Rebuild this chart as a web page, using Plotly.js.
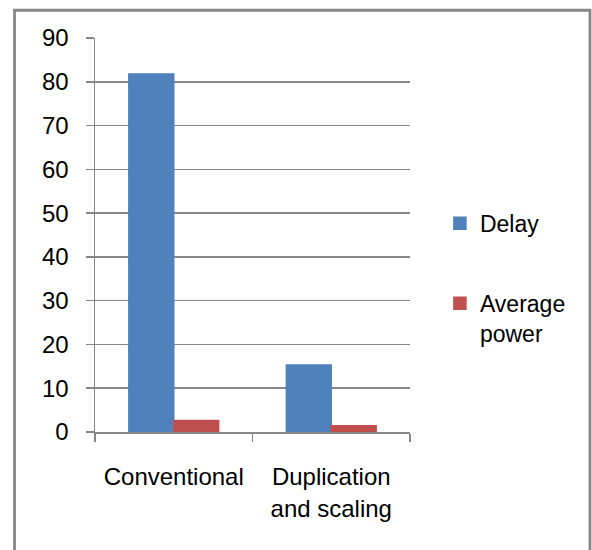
<!DOCTYPE html>
<html>
<head>
<meta charset="utf-8">
<script src="https://cdn.plot.ly/plotly-3.0.1.min.js"></script>
<style>
  html, body { margin: 0; padding: 0; background: #ffffff; }
  #chart { width: 592px; height: 550px; }
</style>
</head>
<body>
<div id="chart"></div>
<script>
// Circuit comparison: delay vs. average power for two design approaches
var categories = ["Conventional", "Duplication<br>and scaling"];
var delayValues = [81.8, 15.3];
var powerValues = [2.6, 1.4];
var seriesNames = ["Delay", "Average<br>power"];
var yTicks = [0, 10, 20, 30, 40, 50, 60, 70, 80, 90];

var FONT = "Liberation Sans, Arial, sans-serif";
var GRAY = "#878787";

var traces = [
  {
    type: "bar",
    name: seriesNames[0],
    x: categories,
    y: delayValues,
    marker: { color: "#4F81BD", line: { color: "#4F81BD", width: 1.5 } },
    legendgroup: "a",
    hoverinfo: "y"
  },
  {
    type: "bar",
    name: seriesNames[1],
    x: categories,
    y: powerValues,
    marker: { color: "#C0504D", line: { color: "#C0504D", width: 1.5 } },
    legendgroup: "b",
    hoverinfo: "y"
  }
];

var layout = {
  width: 592,
  height: 550,
  margin: { l: 95, r: 182, t: 38, b: 118, autoexpand: false },
  paper_bgcolor: "#ffffff",
  plot_bgcolor: "#ffffff",
  font: { family: FONT, size: 24, color: "#000000" },
  barmode: "group",
  bargap: 0.43,
  bargroupgap: 0,
  showlegend: true,
  legend: {
    x: 1.095,
    y: 0.584,
    xanchor: "left",
    yanchor: "top",
    font: { family: FONT, size: 23, color: "#000000" },
    traceorder: "grouped",
    tracegroupgap: 47,
    valign: "top",
    itemwidth: 30,
    bgcolor: "rgba(0,0,0,0)"
  },
  xaxis: {
    type: "category",
    showline: true,
    linecolor: GRAY,
    linewidth: 1.5,
    ticks: "outside",
    tickson: "boundaries",
    ticklen: 8,
    tickwidth: 1.5,
    tickcolor: GRAY,
    showgrid: false,
    zeroline: false,
    ticklabelstandoff: 23,
    tickfont: { family: FONT, size: 24, color: "#000000" },
    fixedrange: true
  },
  yaxis: {
    range: [0, 90],
    tickvals: yTicks,
    ticktext: yTicks.map(String),
    showline: true,
    linecolor: GRAY,
    linewidth: 1.5,
    ticks: "outside",
    ticklen: 8,
    tickwidth: 1.5,
    tickcolor: GRAY,
    showgrid: true,
    gridcolor: GRAY,
    gridwidth: 1.5,
    zeroline: false,
    ticklabelstandoff: 12,
    tickfont: { family: FONT, size: 24, color: "#000000" },
    fixedrange: true
  },
  shapes: [
    {
      type: "rect",
      xref: "paper",
      yref: "paper",
      x0: -0.2555,
      x1: 1.5714,
      y0: -0.32,
      y1: 1.0704,
      line: { color: GRAY, width: 2.8 },
      fillcolor: "rgba(0,0,0,0)",
      layer: "above"
    }
  ]
};

Plotly.newPlot("chart", traces, layout, { displayModeBar: false, staticPlot: true });
</script>
</body>
</html>
